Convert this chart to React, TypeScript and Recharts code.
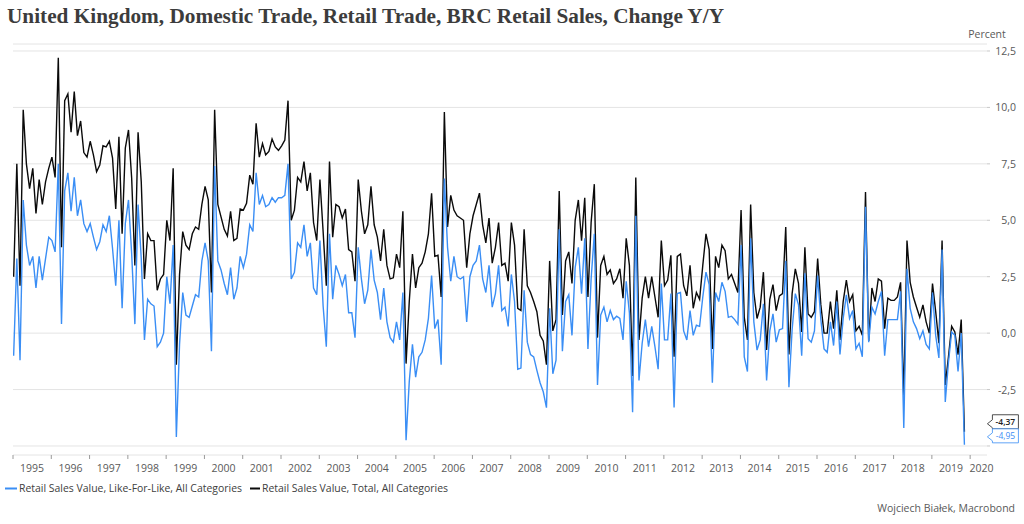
import React from 'react';
import { LineChart, Line, XAxis, YAxis, CartesianGrid, ReferenceDot } from 'recharts';

const START_YEAR = 1995;

const totalValues = [
  2.5, 7.5, 2.1, 9.9, 7.5, 6.4, 7.3, 5.3, 6.8, 5.7,
  6.7, 7.3, 7.8, 6.9, 12.2, 3.8, 10.3, 10.6, 8.9, 10.7,
  8.75, 9.4, 8.0, 7.8, 8.5, 7.9, 7.15, 7.45, 8.3, 8.25,
  8.5, 7.75, 5.5, 8.7, 4.4, 8.2, 9.0, 6.85, 3.0, 8.9,
  6.7, 2.4, 4.4, 4.1, 4.1, 1.9, 2.4, 2.6, 5.0, 4.1,
  7.3, -1.4, 2.6, 4.5, 3.9, 3.7, 4.4, 4.7, 4.6, 5.7,
  6.5, 5.9, 1.8, 9.9, 5.7, 5.15, 4.6, 4.3, 5.4, 4.1,
  4.2, 5.5, 5.45, 5.75, 7.0, 6.6, 9.3, 7.8, 8.4, 7.9,
  8.05, 8.6, 8.25, 8.1, 8.3, 8.55, 10.3, 5.0, 5.45, 6.9,
  6.7, 7.6, 6.3, 7.1, 4.9, 4.1, 6.8, 4.5, 2.1, 7.6,
  4.25, 5.7, 5.6, 5.1, 5.5, 3.7, 3.6, 2.3, 6.8, 5.4,
  4.4, 4.8, 6.5, 4.8, 4.25, 3.2, 4.6, 3.0, 2.4, 2.45,
  3.5, 2.9, 5.4, -1.35, 1.4, 3.5, 2.0, 2.9, 3.1, 3.6,
  4.4, 6.2, 3.4, 3.45, 1.6, 9.8, 4.7, 6.1, 5.45, 5.2,
  5.1, 5.0, 2.9, 4.4, 5.2, 5.7, 6.2, 4.8, 4.0, 5.1,
  3.1, 3.8, 4.9, 3.0, 3.1, 2.3, 4.9, 3.9, 1.1, 1.0,
  4.6, 2.1, 1.8, 1.4, 0.95, -0.1, -0.35, -1.4, 3.2, 0.1,
  0.6, 6.3, 0.8, 3.2, 3.6, 2.2, 5.0, 5.9, 4.1, 6.0,
  1.6, 4.9, 6.6, -0.2, 3.0, 3.4, 2.6, 2.8, 2.2, 2.4,
  2.85, 1.55, 4.2, 3.0, -1.9, 6.9, -0.3, 1.55, 2.5, 1.55,
  2.5, 1.6, 0.7, 4.1, 2.1, 2.35, 3.45, -1.05, 3.4, 3.5,
  2.1, 1.65, 3.0, 1.1, 1.8, 1.5, 3.0, 4.4, 3.7, -0.7,
  3.4, 2.9, 3.9, 3.65, 2.4, 2.6, 2.2, 1.8, 5.45, 0.7,
  -0.3, 5.7, 1.8, 0.65, 1.15, 2.7, -0.75, 1.5, 2.15, 1.0,
  1.65, 1.75, 4.7, -0.95, 1.75, 2.85, 2.2, 0.05, 3.8, 0.85,
  0.7, 0.95, 3.3, 1.25, 0.0, 0.0, 1.4, 0.2, 1.9, -0.3,
  1.4, 2.35, 1.4, 1.7, 0.1, 0.3, -0.1, 6.25, -0.35, 2.0,
  1.4, 2.4, 2.3, 0.2, 1.55, 1.45, 1.45, 1.6, 2.25, -2.9,
  4.1, 2.25, 1.6, 1.15, 0.7, 1.25, 0.5, 0.0, 2.2, 0.95,
  -0.45, 4.1, -2.3, -1.05, 0.3, 0.05, -0.95, 0.6, -4.37,
];

const lflValues = [
  -1.0, 3.3, -1.2, 5.9, 3.9, 3.0, 3.4, 2.0, 3.4, 2.35,
  3.3, 4.25, 4.1, 3.6, 7.5, 0.4, 6.3, 7.1, 5.4, 6.9,
  5.2, 5.9, 4.85, 4.5, 4.85, 4.25, 3.7, 4.05, 4.8, 4.5,
  5.2, 3.75, 2.1, 5.0, 1.1, 4.85, 5.9, 3.5, 0.4, 5.7,
  3.3, -0.3, 1.5, 1.3, 1.2, -0.6, -0.4, 0.0, 2.5, 1.3,
  3.9, -4.6, -0.5, 1.8, 0.8, 0.7, 1.2, 1.7, 1.6, 3.2,
  4.0, 3.2, -0.8, 7.4, 3.2, 2.8, 2.2, 1.7, 2.9, 1.5,
  2.0, 3.4, 2.9, 3.5, 4.8, 4.5, 7.1, 5.7, 6.1, 5.6,
  5.7, 6.0, 5.8, 6.0, 6.0, 6.1, 7.5, 2.4, 2.7, 4.0,
  3.8, 4.8, 3.4, 4.0, 2.0, 1.7, 4.1, 1.2, -0.6, 4.4,
  1.5, 3.0, 2.6, 2.1, 2.6, 0.9, 0.9, -0.2, 3.8, 2.4,
  1.3, 1.9, 3.7, 2.35, 1.8, 0.6, 2.0, 0.5, -0.2, -0.4,
  0.5, -0.3, 1.8, -4.75, -2.15, -0.5, -1.95, -1.05, -0.85, -0.3,
  0.65, 2.55, 0.2, 0.6, -1.4, 6.85, 3.8, 2.3, 3.4, 2.5,
  2.4, 2.5, 0.5, 2.5, 3.0, 3.2, 3.9, 2.4, 1.8, 3.0,
  1.15, 1.75, 3.0, 1.0, 1.15, 0.3, 2.6, 1.4, -1.6, -1.55,
  1.9, -0.4, -0.95, -1.05, -1.65, -2.2, -2.6, -3.3, 1.1, -1.8,
  -1.2, 4.6, -0.8, 1.4, 1.7, -0.1, 2.9, 3.8, 1.75, 4.2,
  -0.7, 2.4, 4.4, -2.3, 0.8, 1.15, 0.5, 1.0, 0.6, 0.75,
  0.65, -0.3, 2.3, 0.9, -3.5, 5.2, -2.1, -0.45, 0.6, -0.6,
  0.3, -0.6, -1.6, 2.2, -0.3, -0.3, 1.75, -3.3, 1.75, 1.8,
  0.1, -0.3, 1.0, -0.1, 0.35, 0.3, 1.6, 2.7, 2.15, -2.2,
  1.8, 1.4, 2.25, 1.85, 0.7, 0.75, 0.6, 0.4, 3.9, -1.05,
  -1.7, 4.2, 0.5, -0.75, -0.3, 1.3, -2.1, 0.1, 0.85, -0.4,
  0.15, 0.2, 3.2, -2.4, 0.15, 1.75, 1.25, -1.0, 2.65, -0.25,
  -0.4, 0.1, 2.55, 0.6, -0.7, -0.85, 0.5, -0.55, 1.4, -0.95,
  0.65, 1.7, 0.65, 1.0, -0.7, -0.45, -1.05, 5.6, -0.4, 1.15,
  0.85, 1.4, 1.85, -1.0, 0.6, 0.6, 0.6, 0.6, 1.85, -4.2,
  2.85, 1.1, 0.5, 0.2, -0.25, 0.1, -0.5, -0.7, 1.8, -0.1,
  -1.1, 3.7, -3.05, -1.3, 0.05, -0.1, -1.7, 0.0, -4.95,
];

const yearTicks = [
  1995, 1996, 1997, 1998, 1999, 2000, 2001, 2002, 2003, 2004, 2005, 2006, 2007,
  2008, 2009, 2010, 2011, 2012, 2013, 2014, 2015, 2016, 2017, 2018, 2019, 2020,
];
const valueTicks = [-5, -2.5, 0, 2.5, 5, 7.5, 10, 12.5];

const seriesNames = [
  'Retail Sales Value, Like-For-Like, All Categories',
  'Retail Sales Value, Total, All Categories',
];

const BLUE = '#3a8ef5';
const BLACK = '#0a0a0a';
const TEXT = '#595959';
const FONT = "'Open Sans', 'Noto Sans', sans-serif";

const data = totalValues.map((t, i) => ({
  t: START_YEAR + (i + 0.2) / 12,
  total: t,
  lfl: lflValues[i],
}));

const fmt = (v: number, d = 1) => v.toFixed(d).replace('.', ',');

const YTick = (props: any) => {
  const { y, payload } = props;
  if (payload.value === -5) return null;
  return (
    <text x={1016} y={y} dy={4} textAnchor="end" fontFamily={FONT} fontSize={10.5} fill={TEXT}>
      {fmt(payload.value)}
    </text>
  );
};

const XTick = (props: any) => {
  const { x, payload } = props;
  const cx = payload.value === 2020 ? 981.5 : x + 19.1;
  return (
    <text x={cx} y={471.5} textAnchor="middle" fontFamily={FONT} fontSize={10.5} fill={TEXT}>
      {payload.value}
    </text>
  );
};

const makeFlag = (color: string, value: number, boxTop: number, boxBottom: number, tipDy: number, bold: boolean) =>
  (p: any) => {
    const cx = p.cx;
    const cy = p.cy;
    const tipX = cx + 23;
    const left = cx + 28;
    const right = cx + 54;
    const top = cy + boxTop;
    const bottom = cy + boxBottom;
    const tipY = cy + tipDy;
    const pts = [
      [left, top], [right, top], [right, bottom], [left, bottom],
      [left, tipY + 4], [tipX, tipY], [left, tipY - 4],
    ].map((q) => q.join(',')).join(' ');
    return (
      <g>
        <polygon points={pts} fill="#fff" stroke={color} strokeWidth={0.8} />
        <text x={(left + right) / 2} y={(top + bottom) / 2 + 3} textAnchor="middle" fontFamily={FONT}
          fontSize={8.5} fontWeight={bold ? 600 : 400} fill={color}>
          {fmt(value, 2)}
        </text>
      </g>
    );
  };

export default function App() {
  const last = data[data.length - 1];
  return (
    <div style={{ position: 'absolute', left: 0, top: 0, width: 1024, height: 524, background: '#fff' }}>
      <div style={{ position: 'absolute', left: 0, top: 0 }}>
        <LineChart width={1024} height={524} data={data} margin={{ top: 44, right: 7, bottom: 39, left: 13 }}>
          <CartesianGrid horizontal vertical={false} stroke="#e4e4e4" strokeWidth={1} />
          <XAxis
            dataKey="t"
            type="number"
            domain={[1995, 2020.44]}
            ticks={yearTicks}
            allowDataOverflow
            interval={0}
            axisLine={false}
            tickLine={{ stroke: '#9a9a9a' }}
            tickSize={4}
            height={30}
            tick={<XTick />}
          />
          <YAxis
            orientation="right"
            type="number"
            domain={[-5.4, 12.81]}
            ticks={valueTicks}
            allowDataOverflow
            interval={0}
            axisLine={false}
            tickLine={{ stroke: '#c8c8c8' }}
            tickSize={3}
            width={30}
            tick={<YTick />}
          />
          <Line type="linear" dataKey="total" stroke={BLACK} strokeWidth={1.4} dot={false} isAnimationActive={false} />
          <Line type="linear" dataKey="lfl" stroke={BLUE} strokeWidth={1.4} dot={false} isAnimationActive={false} />
          <ReferenceDot x={last.t} y={last.total} r={0} ifOverflow="visible"
            shape={makeFlag('#222', last.total, -17, -3, -8, true)} />
          <ReferenceDot x={last.t} y={last.lfl} r={0} ifOverflow="visible"
            shape={makeFlag(BLUE, last.lfl, -16, -2, -8, false)} />
        </LineChart>
      </div>
      <svg width={1024} height={524} style={{ position: 'absolute', left: 0, top: 0, pointerEvents: 'none' }}>
        <text x={7} y={23} fontFamily="'Liberation Serif', 'DejaVu Serif', serif" fontWeight={700} fontSize={20}
          fill="#3c3c3c" textLength={717} lengthAdjust="spacingAndGlyphs">
          United Kingdom, Domestic Trade, Retail Trade, BRC Retail Sales, Change Y/Y
        </text>
        <text x={987} y={38} textAnchor="middle" fontFamily={FONT} fontSize={10.5} fill={TEXT}>Percent</text>
        <line x1={5} y1={488.5} x2={17} y2={488.5} stroke={BLUE} strokeWidth={2} />
        <text x={19} y={492} fontFamily={FONT} fontSize={10.5} fill="#404040" textLength={223} lengthAdjust="spacingAndGlyphs">
          {seriesNames[0]}
        </text>
        <line x1={250} y1={488.5} x2={260} y2={488.5} stroke={BLACK} strokeWidth={2} />
        <text x={262} y={492} fontFamily={FONT} fontSize={10.5} fill="#404040" textLength={186} lengthAdjust="spacingAndGlyphs">
          {seriesNames[1]}
        </text>
        <text x={1015} y={512} textAnchor="end" fontFamily={FONT} fontSize={10.5} fill={TEXT}>
          Wojciech Białek, Macrobond
        </text>
      </svg>
    </div>
  );
}
